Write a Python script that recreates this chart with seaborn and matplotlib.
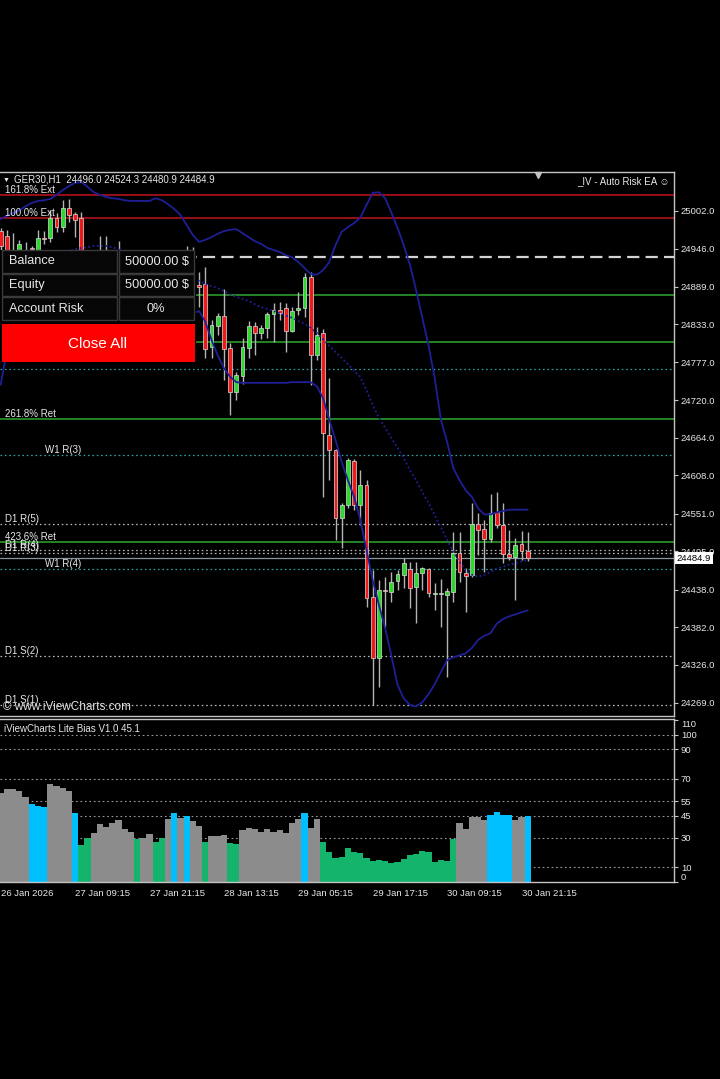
import numpy as np
import pandas as pd
import matplotlib
matplotlib.use("Agg")
import matplotlib.pyplot as plt
import matplotlib.transforms as mtransforms
from matplotlib.patches import Rectangle
import seaborn as sns

sns.set_style("dark")
plt.rcParams['font.family'] = ['Liberation Sans', 'DejaVu Sans']

# ---------------- data ----------------
symbol_header = "GER30,H1  24496.0 24524.3 24480.9 24484.9"
ea_title = "_IV - Auto Risk EA \u263A"

bar_open = [
    24972.2, 24964.8, 24931.9, 24934.9, 24943.9, 24946.9, 24936.4, 24961.8, 24961.8, 24991.6,
    24978.2, 25006.5, 24997.5, 24991.6, 24911.1, 24891.7, 24914.1, 24931.9, 24917.1, 24899.2,
    24926.0, 24902.2, 24876.9, 24893.2, 24869.4, 24887.3, 24905.2, 24884.3, 24906.6, 24921.5,
    24902.2, 24926.0, 24891.7, 24893.2, 24799.4, 24830.7, 24845.6, 24797.9, 24732.3, 24756.2,
    24797.9, 24830.7, 24820.2, 24827.7, 24848.5, 24854.5, 24857.5, 24823.2, 24854.5, 24857.5,
    24903.7, 24787.5, 24820.2, 24668.3, 24645.9, 24544.6, 24564.0, 24629.5, 24564.0, 24593.8,
    24426.9, 24336.0, 24437.4, 24434.4, 24450.8, 24459.7, 24468.6, 24441.8, 24462.7, 24468.6,
    24431.4, 24431.4, 24429.9, 24434.4, 24492.5, 24462.7, 24459.7, 24535.7, 24528.2, 24513.3,
    24553.6, 24534.2, 24491.0, 24486.5, 24505.9, 24496.0]
bar_high = [
    24976.7, 24973.7, 24969.2, 24958.8, 24955.8, 24949.9, 24973.7, 24972.2, 25003.5, 24999.0,
    25018.4, 25019.9, 25000.5, 25000.5, 24926.0, 24931.9, 24964.8, 24964.8, 24936.4, 24957.3,
    24936.4, 24914.1, 24902.2, 24905.2, 24896.2, 24917.1, 24926.0, 24929.0, 24936.4, 24931.9,
    24949.9, 24948.4, 24911.1, 24918.6, 24839.6, 24850.0, 24885.8, 24805.3, 24762.1, 24812.8,
    24838.1, 24836.6, 24832.2, 24851.5, 24864.9, 24866.4, 24864.9, 24859.0, 24881.3, 24909.6,
    24911.1, 24829.2, 24826.2, 24753.2, 24647.4, 24567.0, 24634.0, 24632.5, 24616.1, 24601.2,
    24467.2, 24452.3, 24456.7, 24464.2, 24467.2, 24485.0, 24479.1, 24479.1, 24471.6, 24470.1,
    24447.8, 24453.7, 24440.3, 24523.7, 24523.7, 24470.1, 24567.0, 24552.1, 24541.6, 24580.4,
    24583.4, 24567.0, 24526.7, 24514.8, 24525.2, 24524.3]
bar_low = [
    24926.0, 24914.1, 24921.5, 24926.0, 24921.5, 24926.0, 24926.0, 24952.8, 24955.8, 24970.7,
    24970.7, 24985.6, 24963.3, 24899.2, 24881.3, 24884.3, 24906.6, 24899.2, 24884.3, 24887.3,
    24876.9, 24862.0, 24869.4, 24854.5, 24847.1, 24876.9, 24872.4, 24875.4, 24896.2, 24887.3,
    24891.7, 24881.3, 24859.0, 24783.0, 24783.0, 24817.2, 24750.2, 24698.1, 24720.4, 24744.3,
    24783.0, 24787.5, 24811.3, 24812.8, 24806.8, 24839.6, 24791.9, 24821.7, 24847.1, 24844.1,
    24742.8, 24780.0, 24575.9, 24601.2, 24511.8, 24499.9, 24559.5, 24556.5, 24534.2, 24412.0,
    24266.0, 24292.8, 24382.2, 24419.5, 24437.4, 24440.3, 24410.5, 24388.2, 24437.4, 24426.9,
    24407.5, 24382.2, 24307.7, 24419.5, 24449.3, 24404.6, 24456.7, 24489.5, 24464.2, 24508.8,
    24529.7, 24477.6, 24482.0, 24422.4, 24482.0, 24480.9]
bar_close = [
    24949.9, 24926.0, 24940.9, 24952.8, 24931.9, 24945.4, 24961.8, 24960.3, 24991.6, 24978.2,
    25006.5, 24996.0, 24988.6, 24911.1, 24891.7, 24914.1, 24931.9, 24917.1, 24899.2, 24926.0,
    24902.2, 24876.9, 24893.2, 24869.4, 24887.3, 24905.2, 24884.3, 24906.6, 24921.5, 24902.2,
    24926.0, 24891.7, 24888.8, 24796.4, 24832.2, 24845.6, 24796.4, 24732.3, 24757.7, 24799.4,
    24830.7, 24820.2, 24827.7, 24848.5, 24854.5, 24850.0, 24823.2, 24853.0, 24857.5, 24903.7,
    24787.5, 24817.2, 24671.3, 24645.9, 24544.6, 24564.0, 24631.0, 24564.0, 24593.8, 24425.4,
    24336.0, 24437.4, 24435.9, 24449.3, 24461.2, 24477.6, 24440.3, 24462.7, 24470.1, 24432.9,
    24431.4, 24431.4, 24435.9, 24492.5, 24464.2, 24458.2, 24535.7, 24526.7, 24513.3, 24552.1,
    24534.2, 24491.0, 24486.5, 24504.4, 24495.5, 24484.9]

bb_upper = [
    24990, 24995, 24999, 25003, 25009, 25014, 25017, 25018, 25020, 25026,
    25033, 25039, 25044, 25045, 25038, 25030, 25026, 25023, 25021, 25020,
    25018, 25017, 25017, 25017, 25017, 25021, 25018, 25012, 25005, 24996,
    24981, 24966, 24956, 24959, 24963, 24968, 24972, 24974, 24975, 24969,
    24963, 24957, 24953, 24947, 24944, 24941, 24936, 24933, 24926, 24917,
    24908, 24907, 24914, 24926, 24951, 24971, 24978, 24984, 24992, 25011,
    25029, 25030, 25021, 25000, 24977, 24951, 24922, 24884, 24843, 24802,
    24753, 24691, 24658, 24619, 24601, 24586, 24576, 24559, 24550, 24550,
    24553, 24555, 24557, 24557, 24557, 24557]
bb_middle = [
    24869, 24875, 24881, 24887, 24893, 24901, 24908, 24916, 24923, 24931,
    24936, 24942, 24945, 24947, 24948, 24950, 24950, 24950, 24948, 24945,
    24941, 24935, 24931, 24926, 24922, 24917, 24913, 24908, 24905, 24902,
    24901, 24899, 24898, 24893, 24890, 24887, 24883, 24878, 24874, 24871,
    24868, 24863, 24859, 24856, 24853, 24850, 24846, 24843, 24838, 24834,
    24828, 24820, 24811, 24801, 24792, 24783, 24774, 24764, 24755, 24735,
    24713, 24694, 24679, 24664, 24649, 24634, 24616, 24601, 24583, 24567,
    24549, 24531, 24512, 24494, 24479, 24467, 24460, 24457, 24460, 24464,
    24469, 24472, 24475, 24477, 24480, 24482]
bb_lower = [
    24743, 24795, 24810, 24817, 24825, 24828, 24831, 24834, 24837, 24840,
    24843, 24846, 24847, 24849, 24859, 24862, 24865, 24865, 24863, 24862,
    24860, 24855, 24849, 24843, 24837, 24832, 24831, 24831, 24834, 24837,
    24843, 24849, 24853, 24837, 24810, 24787, 24768, 24755, 24747, 24746,
    24746, 24746, 24746, 24746, 24746, 24746, 24746, 24747, 24747, 24747,
    24747, 24741, 24723, 24691, 24661, 24628, 24601, 24576, 24542, 24497,
    24452, 24415, 24381, 24340, 24296, 24276, 24266, 24264, 24270, 24282,
    24297, 24315, 24333, 24337, 24340, 24343, 24351, 24363, 24369, 24373,
    24387, 24394, 24398, 24401, 24404, 24407]

price_ticks = [25002.0, 24946.0, 24889.0, 24833.0, 24777.0, 24720.0, 24664.0,
               24608.0, 24551.0, 24495.0, 24438.0, 24382.0, 24326.0, 24269.0]
last_price = 24484.9

level_prices = [25025.8, 24991.6, 24933.5, 24877.0, 24807.0, 24766.6, 24692.0,
                24638.5, 24535.7, 24509.0, 24497.0, 24492.5, 24468.6, 24339.0, 24266.0]
level_kinds = ['ext', 'ext', 'entry', 'tp', 'tp', 'w1', 'ret',
               'w1', 'd1', 'ret', 'd1', 'd1', 'w1', 'd1', 'd1']
level_labels = ['161.8% Ext', '100.0% Ext', '', '', '', '', '261.8% Ret',
                'W1 R(3)', 'D1 R(5)', '423.6% Ret', 'D1 R(4)', 'D1 R(3)', 'W1 R(4)', 'D1 S(2)', 'D1 S(1)']

bias_values = [
    60.2, 63.1, 63.1, 61.8, 57.9, 52.7, 51.8, 50.7, 66.3, 65.4,
    63.6, 61.8, 47.1, 25.1, 29.6, 33.5, 39.1, 37.6, 39.8, 42.1,
    35.8, 34.2, 29.2, 30.1, 32.4, 27.4, 29.6, 42.8, 47.1, 43.7,
    45.0, 41.4, 38.0, 26.9, 31.5, 31.5, 31.9, 26.7, 25.6, 35.3,
    36.4, 36.0, 34.2, 36.0, 33.7, 35.3, 33.5, 39.8, 42.5, 47.1,
    36.9, 42.8, 26.9, 20.6, 16.5, 17.2, 22.9, 20.6, 19.5, 16.1,
    14.3, 14.9, 14.3, 12.7, 13.8, 15.4, 18.3, 18.8, 21.0, 20.6,
    13.8, 14.9, 14.5, 29.2, 40.3, 36.0, 44.4, 44.4, 42.1, 45.5,
    47.3, 45.5, 45.5, 42.1, 44.4, 45.1]
N_, S_, W_ = 'neutral', 'strong', 'weak'
bias_state = [
    N_, N_, N_, N_, N_, S_, S_, S_, N_, N_,
    N_, N_, S_, W_, W_, N_, N_, N_, N_, N_,
    N_, N_, W_, N_, N_, W_, W_, N_, S_, N_,
    S_, N_, N_, W_, N_, N_, N_, W_, W_, N_,
    N_, N_, N_, N_, N_, N_, N_, N_, N_, S_,
    N_, N_, W_, W_, W_, W_, W_, W_, W_, W_,
    W_, W_, W_, W_, W_, W_, W_, W_, W_, W_,
    W_, W_, W_, W_, N_, N_, N_, N_, N_, S_,
    S_, S_, S_, N_, N_, S_]
bias_grid = [10, 30, 45, 55, 70, 90, 100]
bias_ticks = [0, 10, 30, 45, 55, 70, 90, 100, 110]
bias_title = "iViewCharts Lite Bias V1.0 45.1"

time_tick_bars = [0, 12, 24, 36, 48, 60, 72, 84]
time_tick_labels = ["26 Jan 2026", "27 Jan 09:15", "27 Jan 21:15", "28 Jan 13:15",
                    "29 Jan 05:15", "29 Jan 17:15", "30 Jan 09:15", "30 Jan 21:15"]

panel_rows = [("Balance", "50000.00 $"), ("Equity", "50000.00 $"), ("Account Risk", "0%")]

# ---------------- styles ----------------
BG = 'black'
FG = '#e8e8e8'
AXC = '#c4c4c4'
NAVY = '#1f1f98'
RED = '#f01818'
GREEN = '#2bd82b'
WICK = '#b4b4b4'
EDGE = '#dcdcdc'
LEVEL_STYLE = {
    'ext': dict(color='#b3121b', lw=1.2, ls='-'),
    'entry': dict(color='#d4d4d4', lw=1.6, ls=(0, (5.5, 2.8))),
    'tp': dict(color='#2a9a2a', lw=1.2, ls='-'),
    'ret': dict(color='#2a9a2a', lw=1.2, ls='-'),
    'w1': dict(color='#2aa3a8', lw=0.9, ls=(0, (1.3, 2.2))),
    'd1': dict(color='#b8b8b8', lw=0.9, ls=(0, (1.3, 2.2))),
}
LABEL_X = {'w1': 45}
BIAS_PALETTE = {'neutral': '#8c8c8c', 'strong': '#00bfff', 'weak': '#14b46c'}

W, H = 720, 1079
fig = plt.figure(figsize=(W / 100, H / 100), dpi=100, facecolor=BG)


def box(l, t, r, b):
    return [l / W, 1 - b / H, (r - l) / W, (b - t) / H]


AX_R = 674
ax = fig.add_axes(box(0, 172, AX_R, 716))
ax2 = fig.add_axes(box(0, 719, AX_R, 882))
for a in (ax, ax2):
    a.set_facecolor(BG)
    a.grid(False)
    for s in ('top', 'right', 'bottom'):
        a.spines[s].set_color(AXC)
        a.spines[s].set_linewidth(1.0)
    a.spines['left'].set_visible(False)

n = len(bar_close)
idx = np.arange(n)
xlim = (-0.113, (AX_R - 0.7) / 6.2)

# ---------------- main price panel ----------------
blend = mtransforms.blended_transform_factory(ax.transAxes, ax.transData)
for p, k, lab in zip(level_prices, level_kinds, level_labels):
    st = LEVEL_STYLE[k]
    ax.axhline(p, color=st['color'], lw=st['lw'], ls=st['ls'], zorder=1)
    if lab:
        ax.text(LABEL_X.get(k, 5) / AX_R, p, lab, transform=blend, ha='left', va='bottom',
                color=FG, fontsize=7, zorder=6)
ax.axhline(last_price, color='#8a949e', lw=0.9, zorder=1)

o = np.array(bar_open); c = np.array(bar_close)
up = c >= o
body_lo = np.minimum(o, c)
body_h = np.maximum(np.abs(c - o), 1.3)
ax.vlines(idx, bar_low, bar_high, color=WICK, lw=1.0, zorder=3)
ax.bar(idx, body_h, bottom=body_lo, width=0.64, color=np.where(up, GREEN, RED),
       edgecolor=EDGE, linewidth=0.5, zorder=4)

sns.lineplot(x=idx, y=bb_upper, ax=ax, color=NAVY, lw=1.3, zorder=5)
sns.lineplot(x=idx, y=bb_lower, ax=ax, color=NAVY, lw=1.3, zorder=5)
sns.lineplot(x=idx, y=bb_middle, ax=ax, color=NAVY, lw=1.3, linestyle=(0, (1.0, 1.4)), zorder=5)

ax.set_xlim(*xlim)
ax.set_ylim(24249.6, 25060.1)
ax.set_xticks([])
ax.set_xlabel('')
ax.set_ylabel('')
ax.yaxis.tick_right()
ax.set_yticks(price_ticks)
ax.set_yticklabels([f"{t:.1f}" for t in price_ticks])
ax.tick_params(axis='y', colors=AXC, labelcolor=FG, length=3, width=0.8, pad=2, labelsize=6.8)
ax.text(1.004, last_price, f"{last_price:.1f}", transform=blend, ha='left', va='center',
        fontsize=6.8, color='black', clip_on=False, zorder=10,
        bbox=dict(boxstyle='square,pad=0.18', fc='white', ec='none'))

# ---------------- bias indicator panel ----------------
for g in bias_grid:
    ax2.axhline(g, color='#9c9c9c', lw=0.8, ls=(0, (1.5, 2.5)), zorder=0.5)
df = pd.DataFrame({'bar': idx, 'bias': bias_values, 'state': bias_state})
sns.barplot(data=df, x='bar', y='bias', hue='state', palette=BIAS_PALETTE, native_scale=True,
            width=1.0, dodge=False, saturation=1, errorbar=None, legend=False,
            linewidth=0, edgecolor='none', ax=ax2, zorder=2)
ax2.set_xlim(*xlim)
ax2.set_ylim(0, 110.7)
ax2.set_xlabel('')
ax2.set_ylabel('')
ax2.yaxis.tick_right()
ax2.set_yticks(bias_ticks)
ax2.set_yticklabels([str(t) for t in bias_ticks])
ax2.tick_params(axis='y', colors=AXC, labelcolor=FG, length=3, width=0.8, pad=2, labelsize=6.8)
for t, lab in zip(bias_ticks, ax2.get_yticklabels()):
    if t == max(bias_ticks):
        lab.set_va('top')
    elif t == 0:
        lab.set_va('bottom')
ax2.set_xticks(time_tick_bars)
ax2.set_xticklabels(time_tick_labels, ha='left')
ax2.tick_params(axis='x', colors=AXC, labelcolor=FG, length=4, width=0.8, pad=1, labelsize=6.8)
ax2.text(4 / AX_R, 1 - 10 / 163, bias_title, transform=ax2.transAxes, ha='left', va='center',
         color=FG, fontsize=7)

# ---------------- overlay (header + account panel) ----------------
ui = fig.add_axes([0, 0, 1, 1], zorder=20)
ui.set_xlim(0, W)
ui.set_ylim(H, 0)
ui.axis('off')
ui.patch.set_alpha(0)

ui.text(3, 180, "\u25BC", color=FG, fontsize=5, ha='left', va='center')
ui.text(14, 180, symbol_header, color=FG, fontsize=7, ha='left', va='center')
ui.text(670, 181, ea_title, color=FG, fontsize=7, ha='right', va='center')
ui.plot([538], [174.5], marker='v', ms=5, color=AXC, clip_on=False)
ui.text(3, 707, "\u00A9 www.iViewCharts.com", color='#e0e0e0', fontsize=8.5, ha='left', va='center')

ui.add_patch(Rectangle((0, 250), 196, 112, fc=BG, ec='none', zorder=1))
row_tops = [250, 273.5, 297]
for (name, val), top in zip(panel_rows, row_tops):
    ui.add_patch(Rectangle((2, top), 115, 22.5, fc='#060606', ec='#3a3a3a', lw=1, zorder=2))
    ui.add_patch(Rectangle((119, top), 75, 22.5, fc='#060606', ec='#3a3a3a', lw=1, zorder=2))
    ui.text(9, top + 11.5, name, color=FG, fontsize=9.2, ha='left', va='center', zorder=3)
    if val.endswith('%'):
        ui.text(156, top + 11.5, val, color=FG, fontsize=9.2, ha='center', va='center', zorder=3)
    else:
        ui.text(189, top + 11.5, val, color=FG, fontsize=9.2, ha='right', va='center', zorder=3)
ui.add_patch(Rectangle((2, 324), 193, 38, fc='#ff0000', ec='#ff0000', lw=0, zorder=2))
ui.text(98, 343.5, "Close All", color='white', fontsize=11, ha='center', va='center', zorder=3)

fig.savefig('out.png', dpi=100, facecolor=BG)
